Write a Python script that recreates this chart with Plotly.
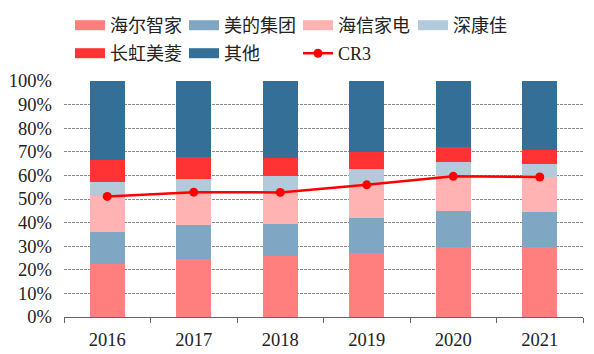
import plotly.graph_objects as go

years = ["2016", "2017", "2018", "2019", "2020", "2021"]
haier = [22.4, 24.5, 25.7, 27.0, 29.8, 29.8]
midea = [13.6, 14.4, 13.5, 15.0, 15.2, 14.6]
hisense = [15.1, 14.0, 13.6, 14.0, 14.6, 14.9]
konka = [6.3, 5.7, 6.8, 6.9, 6.1, 5.7]
changhong = [9.0, 9.1, 7.9, 7.2, 6.2, 5.6]
others = [33.6, 32.3, 32.5, 29.9, 28.1, 29.4]
cr3 = [51.1, 52.9, 52.8, 56.0, 59.6, 59.3]

names = ["海尔智家", "美的集团", "海信家电", "深康佳", "长虹美菱", "其他"]
series = [haier, midea, hisense, konka, changhong, others]
colors = ["#FF7F7F", "#7FA6C2", "#FFB3B3", "#B3CADB", "#FF3333", "#336F96"]

W, H = 594, 354
ML, MR, MT, MB = 64, 11, 81, 37
PW, PH = W - ML - MR, H - MT - MB

def px_x(p):
    return (p - ML) / PW

def px_y(p):
    return 1 + (MT - p) / PH

# legend slot positions (left px, top px)
slots = [(70, 7), (184, 7), (298, 7), (413, 7), (70, 35), (184, 35), (298, 35)]
legend_ids = ["legend"] + ["legend%d" % i for i in range(2, 8)]

fig = go.Figure()
for n, s, c in zip(names, series, colors):
    fig.add_trace(go.Bar(x=years, y=[v / 100 for v in s], name=n,
                         marker=dict(color=c, line=dict(width=0)),
                         showlegend=False))
# legend swatches
for i, (n, c) in enumerate(zip(names, colors)):
    fig.add_trace(go.Scatter(x=[None], y=[None], mode="lines", name=n,
                             line=dict(color=c, width=10), legend=legend_ids[i]))
fig.add_trace(go.Scatter(x=years, y=[v / 100 for v in cr3], name="CR3",
                         mode="lines+markers", legend=legend_ids[6],
                         line=dict(color="#FF0000", width=2.5),
                         marker=dict(color="#FF0000", size=9)))

legfont = dict(family="Liberation Serif, Noto Sans CJK SC", size=18, color="#222")
common = dict(orientation="h", xref="paper", yref="paper",
              xanchor="left", yanchor="top", font=legfont,
              bgcolor="rgba(0,0,0,0)", itemsizing="trace")
legend_layout = {}
for lid, (lx, ly) in zip(legend_ids, slots):
    legend_layout[lid] = dict(x=px_x(lx), y=px_y(ly), **common)

fig.update_layout(
    width=W, height=H,
    margin=dict(l=ML, r=MR, t=MT, b=MB, autoexpand=False),
    barmode="stack", bargap=0.6,
    plot_bgcolor="white", paper_bgcolor="white",
    font=dict(family="Liberation Serif", size=18, color="#222"),
    **legend_layout,
)
fig.update_xaxes(showline=True, linecolor="#666", linewidth=1,
                 ticks="outside", tickson="boundaries", ticklen=5,
                 tickcolor="#666", showgrid=False, ticklabelstandoff=6,
                 automargin=False,
                 tickfont=dict(family="Liberation Serif", size=18.5, color="#222"))
fig.update_yaxes(range=[0, 1], dtick=0.1, tickformat=".0%",
                 showline=False, showgrid=True, gridcolor="#888",
                 griddash="3px,1px", gridwidth=1, zeroline=False,
                 ticklabelstandoff=11, automargin=False,
                 tickfont=dict(family="Liberation Serif", size=18.5, color="#222"))
fig.write_html("out.html")
